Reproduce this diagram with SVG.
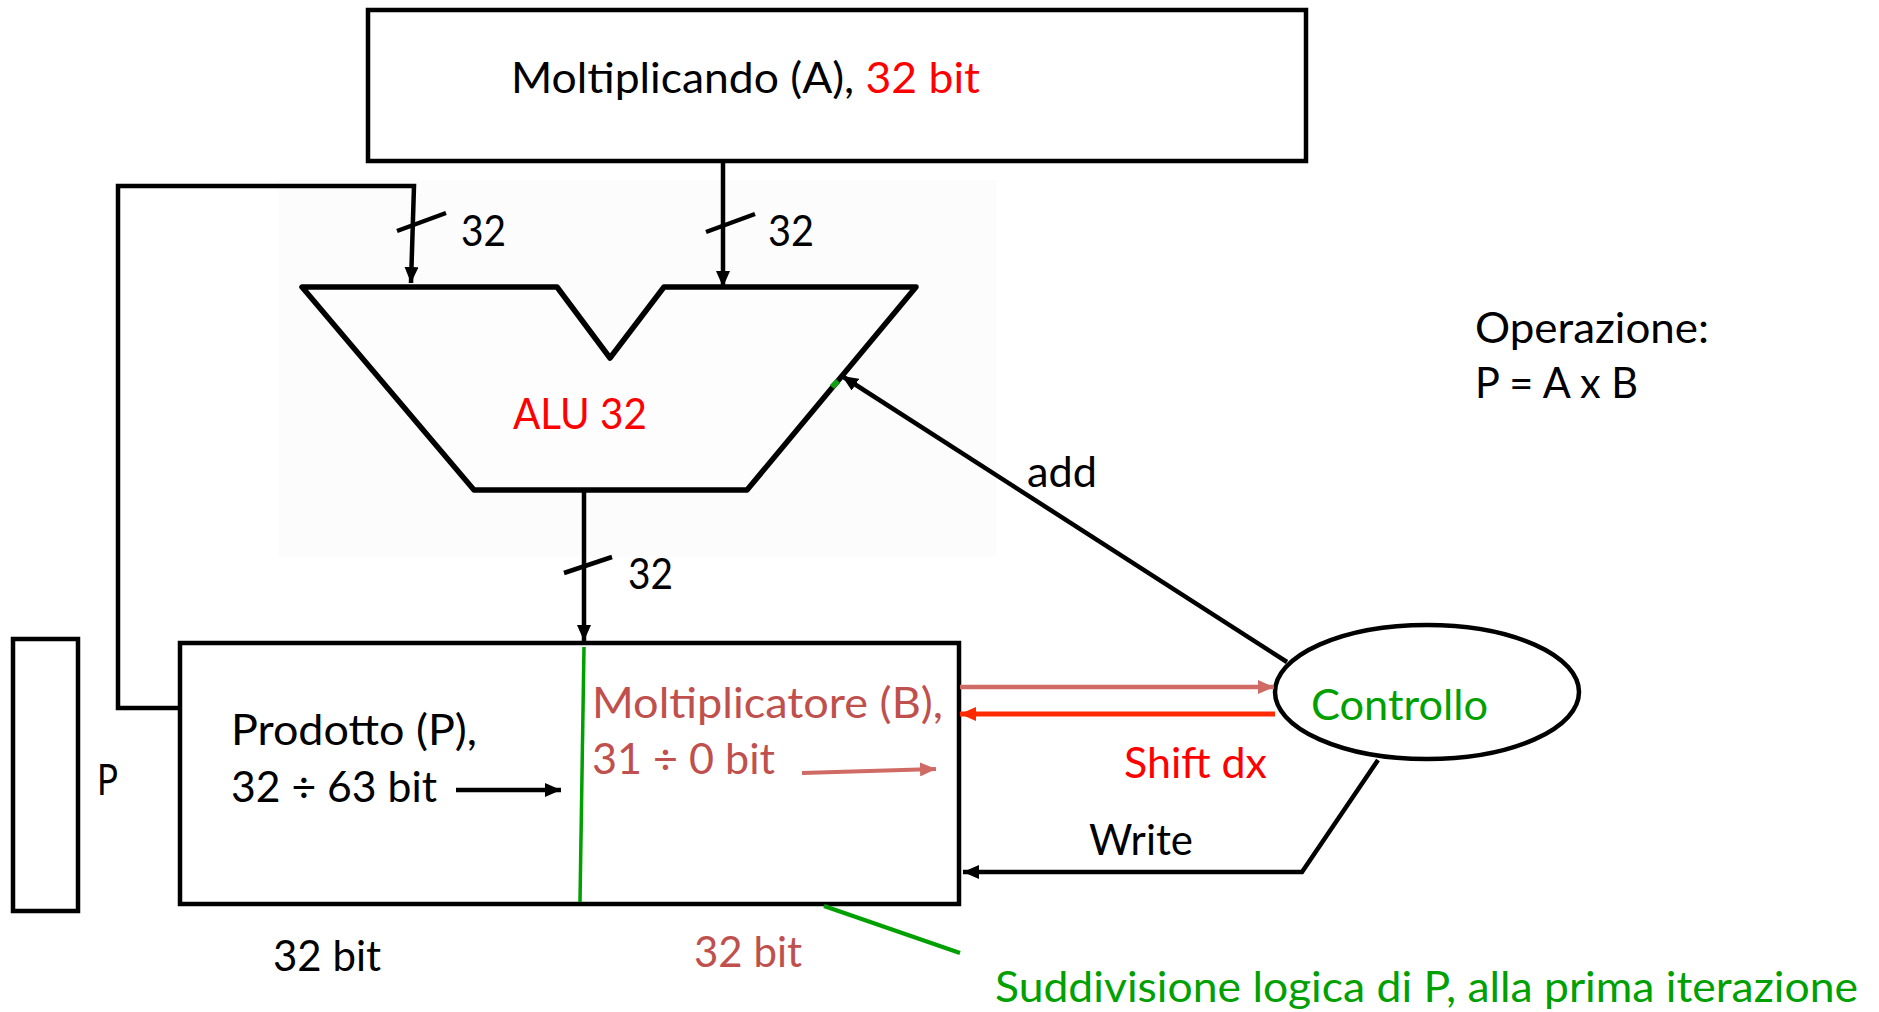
<svg xmlns="http://www.w3.org/2000/svg" width="1879" height="1012" viewBox="0 0 1879 1012">
  <style>
    text { font-family: Lato, "Liberation Sans", sans-serif; font-size: 42px; fill: #000; }
    .red { fill: #ff0000; }
    .rosy { fill: #c0504d; }
    .green { fill: #00a000; }
    .box { fill: #fff; stroke: #000; stroke-width: 4.5; }
    .wire { fill: none; stroke: #000; stroke-width: 4.5; }
    .tick { fill: none; stroke: #000; stroke-width: 4.5; }
  </style>
  <defs>
    <marker id="head-black" markerUnits="userSpaceOnUse" markerWidth="16" markerHeight="14" refX="16" refY="7" orient="auto">
      <path d="M0,0 L16,7 L0,14 z" fill="#000"/>
    </marker>
    <marker id="head-rosy" markerUnits="userSpaceOnUse" markerWidth="16" markerHeight="14" refX="16" refY="7" orient="auto">
      <path d="M0,0 L16,7 L0,14 z" fill="#cf6a65"/>
    </marker>
    <marker id="head-red" markerUnits="userSpaceOnUse" markerWidth="16" markerHeight="14" refX="16" refY="7" orient="auto">
      <path d="M0,0 L16,7 L0,14 z" fill="#ff2a00"/>
    </marker>
  </defs>

  <rect width="1879" height="1012" fill="#fff"/>

  <!-- multiplicand register -->
  <g id="multiplicand">
    <rect class="box" x="368" y="10" width="938" height="151"/>
    <text x="511" y="93" textLength="469" lengthAdjust="spacingAndGlyphs">Moltiplicando (A), <tspan class="red">32 bit</tspan></text>
  </g>

  <!-- ALU with its pale backdrop -->
  <g id="alu">
    <rect x="278" y="180" width="719" height="377" fill="#fcfcfc"/>
    <polygon points="302,287 557,287 610,358 664,287 916,287 747,490 474,490" fill="#fdfdfd" stroke="#000" stroke-width="5.5" stroke-linejoin="round"/>
    <text class="red" x="513" y="429" textLength="134" lengthAdjust="spacingAndGlyphs">ALU 32</text>
  </g>

  <!-- product / multiplier register -->
  <g id="product">
    <rect class="box" x="180" y="643" width="779" height="261"/>
    <text x="231" y="745" textLength="246" lengthAdjust="spacingAndGlyphs">Prodotto (P),</text>
    <text x="231" y="802" textLength="206" lengthAdjust="spacingAndGlyphs">32 ÷ 63 bit</text>
    <text class="rosy" x="592" y="718" textLength="351" lengthAdjust="spacingAndGlyphs">Moltiplicatore (B),</text>
    <text class="rosy" x="592" y="774" textLength="183" lengthAdjust="spacingAndGlyphs">31 ÷ 0 bit</text>
    <text x="273" y="971" textLength="108" lengthAdjust="spacingAndGlyphs">32 bit</text>
    <text class="rosy" x="694" y="967" textLength="108" lengthAdjust="spacingAndGlyphs">32 bit</text>
  </g>

  <!-- P register -->
  <g id="p-register">
    <rect class="box" x="13" y="639" width="65" height="272"/>
    <text x="97" y="795" textLength="21" lengthAdjust="spacingAndGlyphs">P</text>
  </g>

  <!-- control unit -->
  <g id="control">
    <ellipse cx="1427" cy="692" rx="152" ry="67" fill="#fff" stroke="#000" stroke-width="4.5"/>
    <text class="green" x="1311" y="720" textLength="177" lengthAdjust="spacingAndGlyphs">Controllo</text>
  </g>

  <!-- operation note -->
  <g id="operation">
    <text x="1475" y="343" textLength="234" lengthAdjust="spacingAndGlyphs">Operazione:</text>
    <text x="1475" y="398" textLength="163" lengthAdjust="spacingAndGlyphs">P = A x B</text>
  </g>

  <!-- connectors -->
  <g id="connectors">
    <!-- product high half fed back into ALU -->
    <polyline class="wire" points="180,708 118,708 118,186 414,186 411,283" marker-end="url(#head-black)"/>
    <line class="tick" x1="397" y1="231" x2="446" y2="213"/>
    <text x="461" y="246" textLength="45" lengthAdjust="spacingAndGlyphs">32</text>

    <!-- multiplicand into ALU -->
    <line class="wire" x1="723" y1="162" x2="723" y2="287" marker-end="url(#head-black)"/>
    <line class="tick" x1="706" y1="232" x2="755" y2="214"/>
    <text x="768" y="246" textLength="46" lengthAdjust="spacingAndGlyphs">32</text>

    <!-- ALU result into product -->
    <line class="wire" x1="584" y1="490" x2="584" y2="641" marker-end="url(#head-black)"/>
    <line class="tick" x1="564" y1="573" x2="612" y2="557"/>
    <text x="628" y="589" textLength="45" lengthAdjust="spacingAndGlyphs">32</text>

    <!-- add command -->
    <line x1="838" y1="381" x2="832" y2="387" stroke="#10a010" stroke-width="6"/>
    <line class="wire" x1="1287" y1="662" x2="842" y2="376" marker-end="url(#head-black)"/>
    <text x="1027" y="487" textLength="70" lengthAdjust="spacingAndGlyphs">add</text>

    <!-- multiplier bit to control -->
    <line x1="960" y1="687" x2="1274" y2="687" stroke="#cf6a65" stroke-width="4.5" marker-end="url(#head-rosy)"/>

    <!-- shift right command -->
    <line x1="1275" y1="714" x2="960" y2="714" stroke="#ff2a00" stroke-width="5" marker-end="url(#head-red)"/>
    <text class="red" x="1124" y="778" textLength="143" lengthAdjust="spacingAndGlyphs">Shift dx</text>

    <!-- write command -->
    <polyline class="wire" points="1378,760 1302,872 963,872" marker-end="url(#head-black)"/>
    <text x="1089" y="855" textLength="104" lengthAdjust="spacingAndGlyphs">Write</text>

    <!-- shift direction hints inside the register -->
    <line class="wire" x1="456" y1="790" x2="561" y2="790" marker-end="url(#head-black)"/>
    <line x1="802" y1="773" x2="936" y2="769" stroke="#cf6a65" stroke-width="4" marker-end="url(#head-rosy)"/>

    <!-- logical split of P -->
    <line x1="584" y1="647" x2="580" y2="902" stroke="#00a000" stroke-width="3.5"/>
    <line x1="824" y1="906" x2="960" y2="953" stroke="#00a000" stroke-width="4"/>
    <text class="green" x="995" y="1002" textLength="863" lengthAdjust="spacingAndGlyphs">Suddivisione logica di P, alla prima iterazione</text>
  </g>
</svg>
